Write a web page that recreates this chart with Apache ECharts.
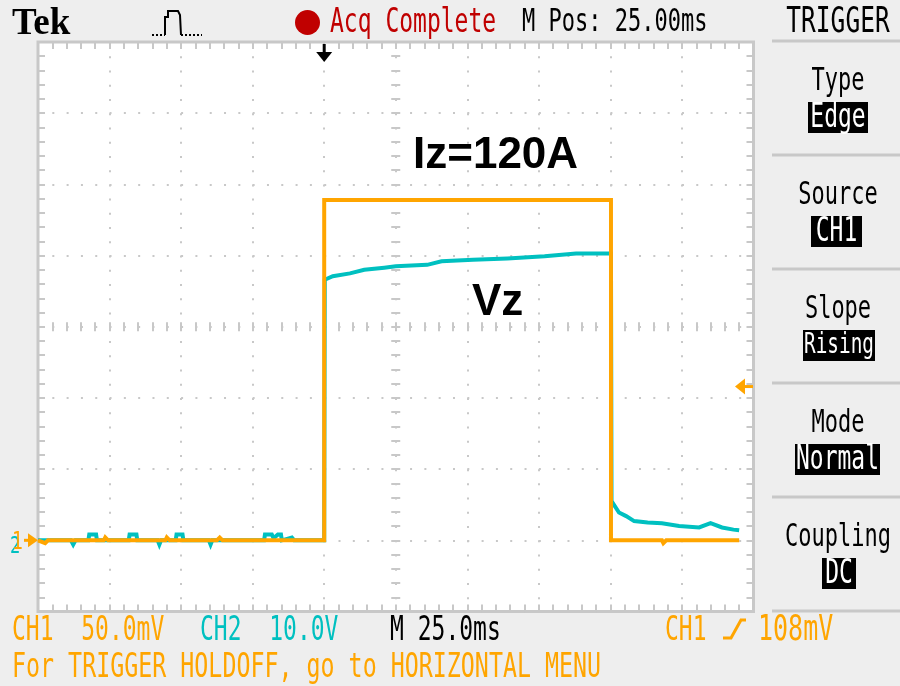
<!DOCTYPE html>
<html>
<head>
<meta charset="utf-8">
<title>Tek - Iz=120A</title>
<script src="https://cdn.jsdelivr.net/npm/echarts@6/dist/echarts.min.js"></script>
<style>
  html, body { margin: 0; padding: 0; background: #eeeeee; }
  #scope { width: 900px; height: 686px; }
</style>
</head>
<body>
<div id="scope"></div>
<script>
// scope settings
var timePerDiv = 25;      // ms / div
var ch1PerDiv = 50;       // mV / div
var ch2PerDiv = 10;       // V / div
var triggerTime = 100;    // ms, trigger point on screen
var triggerLevel = 108;   // mV

// CH1 (orange), mV  -> Iz
var ch1Time  = [0, 2.5, 3.5, 23, 23.5, 24.5, 44.5, 45, 46, 62.5, 63.5, 64.5, 100, 100, 200.2, 200.2, 218, 218.5, 219.5, 245];
var ch1Value = [0, -2, 0, 0, 2, 0, 0, 2, 0, 0, 2, 0, 0, 239, 239, 0, 0, -2, 0, 0];

// CH2 (cyan), V  -> Vz
var ch2Time  = [0, 11.5, 12.3, 13.1, 17.6, 17.9, 20.3, 20.6, 31.7, 32, 34.4, 34.7, 41.8, 42.4, 43, 48.1, 48.4, 50.5, 50.8,
                59.7, 60.3, 60.9, 79, 79.3, 81.7, 82.3, 83.8, 84.9, 85.2, 88.7, 89.5, 100,
                100.2, 103, 109, 114, 121, 125, 136, 141, 152, 164, 177, 188, 200.2,
                200.4, 201, 203, 205.5, 208.3, 213, 218, 224, 231, 235, 239, 243, 245];
var ch2Value = [0, 0, -0.6, 0, 0, 0.8, 0.8, 0, 0, 0.8, 0.8, 0, 0, -0.6, 0, 0, 0.8, 0.8, 0,
                0, -0.6, 0, 0, 0.8, 0.8, 0.3, 0.8, 0.8, 0, 0.4, 0, 0,
                36.6, 37.1, 37.5, 38.0, 38.3, 38.5, 38.7, 39.2, 39.4, 39.6, 39.9, 40.3, 40.3,
                5.5, 5.3, 3.9, 3.4, 2.7, 2.5, 2.4, 2.0, 1.8, 2.4, 1.8, 1.5, 1.4];

var ORANGE = '#ffa500';
var CYAN = '#00c0c0';
var GRAY = '#c8c8c8';
var RED = '#c00000';
var MONO = 'DejaVu Sans Mono';

function pairs(xs, ys) {
  var out = [];
  for (var i = 0; i < xs.length; i++) out.push([xs[i], ys[i]]);
  return out;
}

// axis used for border / center ticks
function tickAxis(pos, min, max, interval, inside, len, extra) {
  var a = {
    type: 'value', position: pos, min: min, max: max, interval: interval,
    axisLine: { show: false, onZero: false },
    axisLabel: { show: false },
    axisTick: { show: true, inside: inside, length: len, lineStyle: { color: GRAY, width: 2 } },
    minorTick: { show: true, splitNumber: 5, length: len, lineStyle: { color: GRAY, width: 2 } },
    splitLine: { show: false }
  };
  for (var k in extra) a[k] = extra[k];
  return a;
}

var gridBox = { left: 38, top: 42, width: 715.5, height: 569.5 };
var tMax = timePerDiv * 10;

var chart = echarts.init(document.getElementById('scope'));
var option = {
  animation: false,
  backgroundColor: '#eeeeee',
  grid: {
    left: gridBox.left, top: gridBox.top, width: gridBox.width, height: gridBox.height,
    show: true, backgroundColor: '#ffffff', borderColor: GRAY, borderWidth: 3,
    outerBoundsMode: 'none'
  },
  xAxis: [
    tickAxis('bottom', 0, tMax, timePerDiv, true, 7, {
      splitLine: { show: true, lineStyle: { color: GRAY, width: 2, type: [2, gridBox.height / 40 - 2] } }
    }),
    tickAxis('top', 0, tMax, timePerDiv, true, 7),
    tickAxis('bottom', 0, tMax, timePerDiv, true, 4.5, { offset: -gridBox.height / 2 }),
    tickAxis('bottom', 0, tMax, timePerDiv, false, 4.5, { offset: -gridBox.height / 2 })
  ],
  yAxis: [
    tickAxis('left', -ch1PerDiv, ch1PerDiv * 7, ch1PerDiv, true, 7, {
      splitLine: { show: true, lineStyle: { color: GRAY, width: 2, type: [2, gridBox.width / 50 - 2] } }
    }),
    tickAxis('right', -ch2PerDiv, ch2PerDiv * 7, ch2PerDiv, true, 7),
    tickAxis('left', -ch1PerDiv, ch1PerDiv * 7, ch1PerDiv, true, 4.5, { offset: -gridBox.width / 2 }),
    tickAxis('left', -ch1PerDiv, ch1PerDiv * 7, ch1PerDiv, false, 4.5, { offset: -gridBox.width / 2 })
  ],
  series: [
    {
      name: 'CH2', type: 'line', xAxisIndex: 0, yAxisIndex: 1,
      data: pairs(ch2Time, ch2Value), showSymbol: false, silent: true,
      lineStyle: { color: CYAN, width: 4, join: 'miter' }
    },
    {
      name: 'CH1', type: 'line', xAxisIndex: 0, yAxisIndex: 0,
      data: pairs(ch1Time, ch1Value), showSymbol: false, silent: true,
      lineStyle: { color: ORANGE, width: 4, join: 'miter' }
    }
  ]
};
chart.setOption(option);

// ---------- screen texts ----------
function txt(s, x, y, color, align, size) {
  return {
    type: 'text', x: x, y: y, scaleY: 1.43, z: 10,
    style: {
      text: s, fill: color, fontFamily: MONO, fontSize: size || 23,
      align: align || 'left', textAlign: align || 'left',
      verticalAlign: 'middle', textVerticalAlign: 'middle'
    }
  };
}

var g = [];
g.push({ type: 'text', x: 12, y: 24, z: 10,
  style: { text: 'Tek', fill: '#000', fontFamily: 'Liberation Serif', fontWeight: 'bold', fontSize: 37,
           verticalAlign: 'middle', textVerticalAlign: 'middle' } });
// pulse icon
g.push({ type: 'polyline', z: 10, shape: { points: [[165, 35], [165, 17], [168, 17], [168, 11], [178, 11], [180, 15], [181, 35]] },
  style: { stroke: '#000', lineWidth: 2, fill: null } });
g.push({ type: 'polyline', z: 10, shape: { points: [[152, 35], [165, 35]] }, style: { stroke: '#000', lineWidth: 2, lineDash: [2, 2] } });
g.push({ type: 'polyline', z: 10, shape: { points: [[181, 35], [202, 35]] }, style: { stroke: '#000', lineWidth: 2, lineDash: [2, 2] } });
g.push({ type: 'circle', z: 10, shape: { cx: 307.5, cy: 22.5, r: 12.5 }, style: { fill: RED } });
g.push(txt('Acq Complete', 330, 23, RED));
g.push(txt('M Pos: 25.00ms', 522, 23, '#000', 'left', 22));
g.push(txt('TRIGGER', 838, 23, '#000', 'center', 24.5));

// right menu
var sepY = [41, 155, 269, 383, 497, 611];
sepY.forEach(function (y) {
  g.push({ type: 'rect', z: 5, shape: { x: 772, y: y - 1.5, width: 128, height: 3 }, style: { fill: GRAY } });
});
var menu = [['Type', 'Edge', 808, 60], ['Source', 'CH1', 811, 51], ['Slope', 'Rising', 803, 72],
            ['Mode', 'Normal', 795, 85], ['Coupling', 'DC', 822, 34]];
menu.forEach(function (m, i) {
  var top = sepY[i];
  var fit = Math.min(23, (m[3] - 2) / (m[1].length * 0.602));
  g.push(txt(m[0], 838, top + 41, '#000', 'center', 22));
  g.push({ type: 'rect', z: 9, shape: { x: m[2], y: top + 61, width: m[3], height: 31 }, style: { fill: '#000' } });
  g.push(txt(m[1], m[2] + m[3] / 2, top + 77, '#fff', 'center', fit));
});

// bottom status lines
g.push(txt('CH1  50.0mV', 12, 631, ORANGE));
g.push(txt('CH2  10.0V', 200, 631, CYAN));
g.push(txt('M 25.0ms', 390, 631, '#000'));
g.push(txt('CH1', 665, 631, ORANGE));
g.push({ type: 'polyline', z: 10, shape: { points: [[723, 638], [731, 638], [741, 620], [746, 620]] },
  style: { stroke: ORANGE, lineWidth: 3, fill: null } });
g.push(txt('108mV', 758, 631, ORANGE, 'left', 25));
g.push(txt('For TRIGGER HOLDOFF, go to HORIZONTAL MENU', 12, 668, ORANGE, 'left', 23.3));

// annotations
g.push({ type: 'text', x: 413, y: 156, z: 10,
  style: { text: 'Iz=120A', fill: '#000', fontFamily: 'Liberation Sans', fontWeight: 'bold', fontSize: 44,
           verticalAlign: 'middle', textVerticalAlign: 'middle' } });
g.push({ type: 'text', x: 472, y: 303, z: 10,
  style: { text: 'Vz', fill: '#000', fontFamily: 'Liberation Sans', fontWeight: 'bold', fontSize: 44,
           verticalAlign: 'middle', textVerticalAlign: 'middle' } });

// markers placed through the axes
var groundY = chart.convertToPixel({ yAxisIndex: 0 }, 0);
var trigX = chart.convertToPixel({ xAxisIndex: 0 }, triggerTime);
var levelY = chart.convertToPixel({ yAxisIndex: 0 }, triggerLevel);

g.push({ type: 'rect', z: 10, shape: { x: trigX - 1.5, y: 44, width: 3, height: 10 }, style: { fill: '#000' } });
g.push({ type: 'polygon', z: 10, shape: { points: [[trigX - 8, 52], [trigX + 8, 52], [trigX, 62]] }, style: { fill: '#000' } });

g.push({ type: 'polygon', z: 10, shape: { points: [[735, levelY], [745, levelY - 8], [745, levelY + 8]] }, style: { fill: ORANGE } });
g.push({ type: 'rect', z: 10, shape: { x: 744, y: levelY - 1.5, width: 9, height: 3 }, style: { fill: ORANGE } });

g.push({ type: 'text', x: 10, y: groundY + 6, z: 10, scaleY: 1.4,
  style: { text: '2', fill: CYAN, fontFamily: MONO, fontSize: 17, verticalAlign: 'middle', textVerticalAlign: 'middle' } });
g.push({ type: 'text', x: 12, y: groundY + 2, z: 11, scaleY: 1.4,
  style: { text: '1', fill: ORANGE, fontFamily: MONO, fontSize: 18, verticalAlign: 'middle', textVerticalAlign: 'middle' } });
g.push({ type: 'polygon', z: 11, shape: { points: [[28, groundY - 7], [28, groundY + 7], [38, groundY]] }, style: { fill: ORANGE } });
g.push({ type: 'rect', z: 11, shape: { x: 24, y: groundY - 1.5, width: 6, height: 3 }, style: { fill: ORANGE } });

chart.setOption({ graphic: g });
</script>
</body>
</html>
